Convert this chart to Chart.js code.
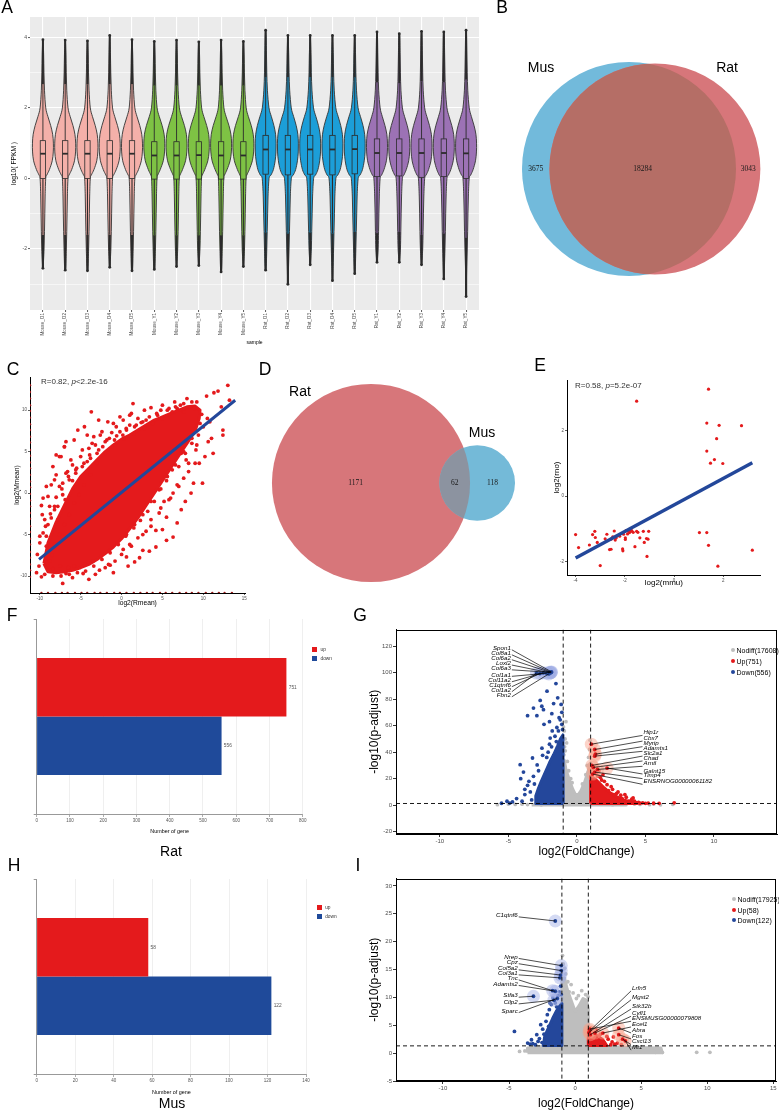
<!DOCTYPE html>
<html><head><meta charset="utf-8">
<title>Figure</title>
<script src="https://cdn.jsdelivr.net/npm/chart.js@4.4.1/dist/chart.umd.min.js"></script>
<style>
html,body{margin:0;padding:0;background:#fff}
body{width:779px;height:1110px;position:relative;overflow:hidden;font-family:"Liberation Sans",Arial,sans-serif;color:#000}
canvas{position:absolute;display:block}
.t{position:absolute;white-space:nowrap;line-height:1}
.c{transform:translate(-50%,-50%)}
.l{transform:translateY(-50%)}
.pl{font-size:17.5px}
.sq{position:absolute;width:5px;height:5px}
.dot{position:absolute;width:4px;height:4px;border-radius:50%}
</style></head><body>
<canvas id="cA" width="485" height="352" style="left:0;top:0"></canvas>
<canvas id="cB" width="289" height="320" style="left:490px;top:0"></canvas>
<canvas id="cC" width="265" height="250" style="left:0;top:362px"></canvas>
<canvas id="cD" width="268" height="248" style="left:262px;top:362px"></canvas>
<canvas id="cE" width="239" height="219" style="left:540px;top:372px"></canvas>
<canvas id="cF" width="330" height="228" style="left:0;top:610px"></canvas>
<canvas id="cG" width="419" height="236" style="left:360px;top:625px"></canvas>
<canvas id="cH" width="330" height="228" style="left:0;top:870px"></canvas>
<canvas id="cI" width="419" height="240" style="left:360px;top:874px"></canvas>

<div class="t c pl" style="left:7px;top:8px">A</div>
<div class="t c pl" style="left:502px;top:8px">B</div>
<div class="t c pl" style="left:13px;top:370px">C</div>
<div class="t c pl" style="left:265px;top:370px">D</div>
<div class="t c pl" style="left:540px;top:366px">E</div>
<div class="t c pl" style="left:12px;top:616px">F</div>
<div class="t c pl" style="left:360px;top:616px">G</div>
<div class="t c pl" style="left:14px;top:866px">H</div>
<div class="t c pl" style="left:358px;top:866px">I</div>

<div class="t l" style="left:41px;top:382px;font-size:8px;color:#333">R=0.82, <i>p</i>&lt;2.2e-16</div>
<div class="t l" style="left:575px;top:386px;font-size:8px;color:#333">R=0.58, <i>p</i>=5.2e-07</div>
<div class="t c" style="left:171px;top:851px;font-size:14px">Rat</div>
<div class="t c" style="left:172px;top:1103px;font-size:14px">Mus</div>
<div id="legends"></div>

<script>
// ===================== DATA =====================
// A: log10(FPKM) distributions per sample
const sampleNames = ['Mouse_O1','Mouse_O2','Mouse_O3','Mouse_O4','Mouse_O5','Mouse_Y1','Mouse_Y2','Mouse_Y3','Mouse_Y4','Mouse_Y5','Rat_O1','Rat_O2','Rat_O3','Rat_O4','Rat_O5','Rat_Y1','Rat_Y2','Rat_Y3','Rat_Y4','Rat_Y5'];
const sampleGroup = [0,0,0,0,0,1,1,1,1,1,2,2,2,2,2,3,3,3,3,3];
const fpkmMax = [3.93,3.92,3.90,4.05,3.93,3.88,3.92,3.87,3.92,3.88,4.20,4.05,4.05,4.05,4.05,4.15,4.10,4.17,4.15,4.20];
const fpkmMin = [-2.55,-2.60,-2.62,-2.52,-2.62,-2.58,-2.50,-2.47,-2.65,-2.50,-2.60,-3.00,-2.45,-2.90,-2.70,-2.38,-2.38,-2.45,-2.85,-3.35];
const fpkmQ1 = [0.00,0.00,0.00,0.00,0.00,-0.02,-0.02,-0.02,-0.02,-0.02,0.12,0.10,0.12,0.10,0.13,0.05,0.07,0.03,0.05,0.00];
const fpkmMedian = [0.70,0.70,0.70,0.70,0.70,0.65,0.65,0.66,0.65,0.65,0.82,0.82,0.82,0.82,0.83,0.72,0.72,0.72,0.72,0.71];
const fpkmQ3 = [1.07,1.07,1.07,1.07,1.07,1.04,1.04,1.04,1.04,1.04,1.22,1.22,1.22,1.22,1.22,1.12,1.12,1.12,1.12,1.12];
const fpkmWhiskerHi = [2.67,2.67,2.67,2.67,2.67,2.63,2.63,2.63,2.63,2.63,2.87,2.87,2.87,2.87,2.86,2.72,2.70,2.75,2.72,2.80];
const fpkmWhiskerLo = [-1.60,-1.60,-1.60,-1.60,-1.60,-1.61,-1.61,-1.61,-1.61,-1.61,-1.53,-1.56,-1.53,-1.56,-1.51,-1.55,-1.51,-1.60,-1.56,-1.68];
const densityLevels = [4.2,4.0,3.5,3.0,2.5,2.0,1.75,1.5,1.25,1.0,0.75,0.5,0.25,0.1,0.0,-0.5,-1.0,-1.5,-2.0,-2.5,-3.0,-3.4];
const densityMouseO = [0.03,0.04,0.07,0.10,0.15,0.27,0.48,0.74,0.93,1.00,0.99,0.89,0.62,0.38,0.27,0.21,0.18,0.15,0.11,0.06,0.03,0.02];
const densityMouseY = [0.03,0.04,0.07,0.10,0.15,0.27,0.48,0.75,0.94,1.00,0.98,0.86,0.57,0.34,0.26,0.21,0.18,0.15,0.11,0.06,0.03,0.02];
const densityRatO   = [0.03,0.05,0.08,0.11,0.17,0.32,0.55,0.79,0.95,1.00,0.99,0.91,0.74,0.52,0.33,0.23,0.19,0.15,0.11,0.06,0.03,0.02];
const densityRatY   = [0.03,0.05,0.08,0.11,0.16,0.30,0.51,0.76,0.94,1.00,0.99,0.90,0.67,0.45,0.30,0.22,0.18,0.15,0.11,0.06,0.03,0.02];
const fpkmTickLabels = [-2,0,2,4];
const fpkmGridBreaks = [-3,-2,-1,0,1,2,3,4];

// B / D: Venn counts
const vennAllNames = ['Mus','Rat'];
const vennAllOnly = [3675,3043];
const vennAllShared = 18284;
const vennDegNames = ['Rat','Mus'];
const vennDegOnly = [1171,118];
const vennDegShared = 62;

// C: log2 mean expression, Rat (x) vs Mouse (y)
const expressionCore = [[-9.5,-8.5],[-9.0,-6.0],[-8.0,-3.5],[-7.0,-1.5],[-6.0,0.5],[-5.0,2.0],[-4.0,3.0],[-3.0,4.0],[-2.0,5.0],[-1.0,5.8],[0.0,6.5],[1.0,7.0],[2.0,7.6],[3.0,8.2],[4.0,8.8],[5.0,9.2],[6.0,9.6],[7.0,10.0],[8.0,10.4],[9.0,10.5],[9.6,10.0],[9.5,9.0],[9.0,7.5],[8.0,6.0],[7.0,4.5],[6.0,3.0],[5.0,1.5],[4.0,0.0],[3.0,-1.5],[2.0,-3.0],[1.0,-4.3],[0.0,-5.5],[-1.0,-6.5],[-2.0,-7.3],[-3.0,-8.0],[-4.0,-8.6],[-5.0,-9.0],[-6.0,-9.3],[-7.0,-9.5],[-8.0,-9.6],[-9.0,-9.5]];
const expressionScatter = [
[-10.0,-6.0],[-9.6,-4.8],[-9.4,-3.2],[-9.8,-1.5],[-9.0,-0.4],[-8.6,1.0],[-8.4,3.2],[-8.0,2.2],[-7.6,4.4],[-7.0,5.6],[-6.2,4.0],[-6.6,2.6],[-7.3,0.5],[-8.2,-1.6],[-7.8,-3.2],[-6.9,-0.8],[-6.0,1.5],[-5.5,3.0],[-5.35,7.6],[-4.54,8.0],[-3.7,9.8],[-4.8,5.2],[-4.2,3.8],[-3.6,6.0],[-3.0,4.8],[-2.6,7.0],[-2.0,6.2],[-1.68,8.6],[-1.2,7.3],[-0.86,6.4],[-0.65,8.0],[0.16,7.0],[0.57,7.8],[1.2,9.6],[1.8,8.2],[2.4,8.5],[3.0,8.8],[3.6,10.3],[4.3,9.6],[5.0,10.6],[5.8,10.2],[6.5,11.0],[7.2,10.6],[8.0,11.4],[9.2,11.0],[10.4,11.7],[11.3,12.1],[11.8,12.3],[13.0,13.0],[12.4,7.6],[12.4,7.0],[10.6,6.2],[11.2,4.8],[9.9,1.2],[9.5,3.6],[9.1,5.2],[7.9,4.0],[7.3,4.8],[8.5,0.0],[6.3,0.0],[7.3,-2.0],[5.5,-2.9],[4.2,-4.5],[6.3,-5.3],[5.5,-5.7],[4.2,-6.5],[2.6,-6.9],[1.6,-8.3],[0.6,-7.7],[-1.4,-8.7],[-2.7,-9.3],[-4.7,-9.7],[-6.8,-9.7],[-8.4,-9.1],[-7.2,-10.9],[-9.8,-10.1],[-10.1,-8.8],[-9.2,-6.4],[-10.0,-5.2],[-8.8,-1.6],[-9.6,-0.6],[-8.2,1.6],[-7.4,4.4],[-6.98,5.58],
[-8.5,-7.5],[-8.8,-8.2],[-7.5,-8.8],[-6.5,-9.0],[-5.8,-8.8],[-4.5,-8.6],[-3.5,-8.2],[-2.5,-7.6],[-1.5,-7.0],[-0.5,-6.0],[0.5,-5.2],[1.5,-4.2],[2.3,-3.3],[3.2,-2.2],[4.0,-1.0],[4.8,0.5],[5.5,1.5],[6.2,2.8],[7.0,3.2],[7.8,4.8],[8.6,6.0],[9.4,7.0],[10.0,8.0],[10.5,9.0],[9.8,9.5],[8.9,10.2],[7.6,9.8],[6.2,9.8],[5.0,9.0],[3.8,8.4],[2.8,7.8],[1.5,7.2],[0.3,6.5],[-0.8,5.8],[-2.0,4.8],[-3.0,3.6],[-3.8,2.2],[-4.6,1.0],[-5.2,-0.2],[-5.8,-1.2],[-6.4,-2.6],[-7.0,-3.8],[-7.6,-5.0],[-8.2,-6.2],[-9.0,-7.0],
[-9.3,-4.0],[-8.7,-2.5],[-8.0,-0.5],[-7.2,1.2],[-6.5,2.0],[-5.6,2.4],[-4.8,3.2],[-3.9,4.6],[-3.2,5.8],[-2.3,5.6],[-1.5,6.6],[-0.2,7.4],[1.0,8.2],[2.0,9.0],[4.8,10.0],[6.8,10.2],[8.4,10.4],
[-2.0,-9.0],[-0.8,-8.2],[0.2,-6.8],[1.0,-6.2],[2.0,-5.4],[3.0,-4.6],[3.6,-3.2],[4.6,-2.4],[5.2,-1.0],[6.0,-0.6],[6.8,1.0],[7.6,1.8],[8.2,2.6],[9.0,3.6],[10.2,4.4],[11.0,6.6],[10.8,8.6],[12.2,10.4],[13.2,11.2],
[-6.0,-10.2],[-4.0,-10.4],[-3.2,-9.8],[-1.0,-9.6],[0.8,-8.8],[2.2,-7.8],[3.4,-7.0],[5.0,-4.4],[6.8,-3.6],[7.8,-1.0],[8.8,1.2],[-10.4,-9.6],[-10.3,-7.4],[-9.7,-2.6],[-9.2,0.8],[-8.0,4.6],[-6.8,6.2],[-5.8,6.4],[-4.2,7.0],[-2.8,8.8],[-0.2,9.2],[1.4,10.8],[2.8,10.0],
[-9.2,-5.2],[-8.6,-3.0],[-7.8,-1.6],[-7.2,-0.2],[-6.4,1.6],[-5.6,2.8],[-4.6,3.6],[-3.8,4.2],[-2.8,5.2],[-1.8,6.4],[-0.6,6.9],[0.6,7.6],[1.6,8.0],[2.6,8.6],[3.4,9.2],[4.4,9.4],[5.6,10.0],[6.6,10.4],[7.6,10.8],[8.6,11.0],
[9.6,8.4],[8.6,6.6],[7.6,5.0],[6.6,3.4],[5.6,2.0],[4.6,0.4],[3.6,-1.0],[2.6,-2.6],[1.6,-3.8],[0.6,-5.0],[-0.4,-6.2],[-1.4,-7.2],[-2.4,-8.0],[-3.4,-8.8],[-4.4,-9.4],[-5.4,-9.6],[-6.4,-9.8],[-7.4,-10.0],[-8.4,-10.0],[-9.4,-9.8],
[-9.0,-3.8],[-8.2,-2.0],[-7.6,0.8],[-6.8,2.4],[-6.0,3.4],[-5.0,4.4],[-4.0,5.4],[-3.4,6.8],[-2.4,7.4],[-1.0,8.4],[0.2,8.8],[1.0,9.4],[-1.6,-8.6],[0.0,-7.4],[1.2,-6.4],[2.6,-5.0],[3.6,-4.0],[4.8,-1.8],[5.8,-0.8],[7.0,0.8],[8.2,3.6],[9.2,5.8]];
const rmeanZeroY = [-10.1,-9.3,-8.6,-7.8,-7.1,-6.2,-5.5,-4.7,-4.0,-3.1,-2.4,-1.6,-0.9,-0.1,0.7,1.4,2.2,3.0,3.7,4.5,5.2,6.1,6.8,7.6,8.3,9.1,9.9,10.6,11.4,12.2,13.0];
const mmeanZeroX = [-9.8,-9.0,-8.1,-7.3,-6.6,-5.7,-4.9,-4.2,-3.3,-2.6,-1.8,-0.9,-0.2,0.6,1.5,2.3,3.1,3.8,4.7,5.4,6.2,7.1,7.9,8.6,9.4,10.3,11.1,11.9,12.6,13.5];
const fitRmean = [-10.1,13.9];
const fitMmean = [-8.0,11.2];

// E: log2 fold changes of shared DEGs, mouse (x) vs rat (y)
const sharedDegMmu = [1.40,-1.52,1.33,1.83,2.74,1.73,1.33,1.64,1.48,1.98,1.03,1.33,1.40,1.78,3.18,-4.00,-3.88,-3.44,-3.31,-3.22,-3.20,-3.12,-3.00,-2.80,-2.73,-2.62,-2.56,-2.56,-2.49,-2.43,-2.39,-2.35,-2.21,-2.09,-2.08,-2.05,-1.98,-1.98,-1.95,-1.89,-1.85,-1.81,-1.76,-1.72,-1.66,-1.59,-1.52,-1.47,-1.39,-1.25,-1.21,-1.12,-1.10,-1.03,-1.06];
const sharedDegRno = [3.28,2.91,2.24,2.17,2.16,1.76,1.38,1.12,1.01,1.00,-1.12,-1.12,-1.51,-2.15,-1.66,-1.18,-1.58,-1.50,-1.18,-1.08,-1.27,-1.42,-2.13,-1.31,-1.17,-1.64,-1.63,-1.32,-1.25,-1.07,-1.35,-1.28,-1.23,-1.62,-1.68,-1.17,-1.28,-1.33,-1.06,-1.16,-1.08,-1.12,-1.08,-1.06,-1.11,-1.55,-1.08,-1.11,-1.28,-1.08,-1.42,-1.30,-1.85,-1.08,-1.32];
const fitMmu = [-4.0,3.18];
const fitRno = [-1.90,1.02];

// F / H: DEG counts
const degClasses = ['up','down'];
const ratDegCounts = [751,556];
const musDegCounts = [58,122];

// G: Rat volcano
const ratVolcanoCounts = [17608,751,556];
const ratNodiffCore = [[-3.3,0.1],[-3.0,1.1],[-1.0,1.3],[-1.0,30],[-0.92,34],[-0.8,27],[-0.55,19],[-0.3,12],[-0.1,8],[0.1,8],[0.3,11],[0.55,17],[0.8,25],[0.93,31],[1.0,32],[1.0,1.3],[3.0,1.1],[3.6,0.1]];
const ratNodiffPts = [[-0.95,38],[-0.9,44],[-0.86,50],[-0.92,56],[-0.8,63],[-0.85,41],[-0.7,33],[-0.6,26],[-0.45,20],[-0.35,17],[0.4,16],[0.65,23],[0.85,36],[0.92,42],[0.96,49],[0.75,30],[-4.5,0.6],[-5.0,0.9],[-5.8,0.4],[-4.0,0.8],[-3.6,0.5],[4.2,0.9],[4.6,0.6],[5.3,0.4],[5.6,0.9],[6.1,0.3],[7.0,0.6],[-2.6,0.3],[2.6,0.4],[-0.98,59],[-0.75,47]];
const ratDownCore = [[-1.0,1.3],[-3.0,1.3],[-3.0,7],[-2.8,13],[-2.6,18],[-2.3,25],[-2.0,32],[-1.7,38],[-1.4,45],[-1.2,50],[-1.02,53]];
const ratDownPts = [[-3.17,21.8],[-4.14,30.6],[-3.24,35.6],[-2.55,43],[-1.95,50.6],[-1.46,58.6],[-1.22,64.4],[-2.68,79],[-2.56,74.6],[-2.44,72],[-1.7,76.6],[-3.17,73.2],[-3.6,67.5],[-2.92,67.5],[-1.83,69],[-1.53,91.7],[-2.18,86],[-5.1,3],[-4.7,2.5],[-4.0,3],[-3.8,8],[-3.6,15],[-4.1,20],[-3.9,25],[-2.9,30.4],[-2.5,37.6],[-2.1,40],[-1.85,44],[-1.5,48],[-1.6,52],[-1.35,56],[-1.1,61],[-4.4,5],[-3.4,10],[-3.3,4],[-3.5,18],[-2.8,26],[-2.2,36],[-1.3,66],[-1.1,70],[-1.05,57],[-4.9,1.6],[-5.5,1.5],[-3.8,12],[-3.1,16],[-2.0,46],[-1.8,56],[-1.15,76],[-1.4,81],[-2.4,61],[-2.0,63]];
const ratUpCore = [[1.0,1.3],[1.0,22],[1.3,20],[1.6,17],[2.0,13],[2.4,9.5],[2.9,6.5],[3.4,4],[4.0,2.2],[4.4,1.3]];
const ratUpPts = [[1.2,25],[1.5,22],[1.8,19],[2.2,15.5],[2.6,12],[2.9,9],[3.2,7.5],[3.6,6],[4.0,4.5],[4.2,3],[4.5,2.2],[3.8,3],[4.8,1.8],[5.2,1.6],[5.6,1.5],[6.0,1.4],[7.1,1.8],[4.6,1.5],[3.3,5],[2.7,8],[2.3,11],[1.1,27],[1.4,24],[1.7,21],[2.0,18],[5.0,1.4],[4.3,2.0],[2.5,14],[3.0,10],[1.9,23],[1.6,26],[3.5,8],[4.1,5.5]];
const ratDownGenes = ['Spon1','Col8a1','Col6a2','Loxl2','Col6a3','Col1a1','Col11a2','C1qtnf6','Col1a2','Fbn2'];
const ratDownGenePts = [[-1.85,100.5],[-1.88,100.2],[-1.9,100],[-1.95,99.8],[-2.0,100.2],[-2.2,99.5],[-2.45,99.8],[-2.7,99.3],[-2.95,99.6],[-2.05,99]];
const ratUpGenes = ['Hip1r','Cbx7','Myrip','Adamts1','Slc2a1','Chad','Arntl','Galnt15','Timp4','ENSRNOG00000061182'];
const ratUpGenePts = [[1.05,46],[1.3,42],[1.35,38.5],[1.3,37],[1.1,30],[1.2,28.5],[1.5,27],[2.2,28],[1.3,25],[1.15,23.5]];

// I: Mouse volcano
const musVolcanoCounts = [17925,58,122];
const musNodiffCore = [[-3.6,0.05],[-3.6,0.9],[-2.5,1.2],[-1.0,1.35],[-1.0,13],[-0.8,13.5],[-0.6,11.5],[-0.3,9.5],[0,7.5],[0.3,8.5],[0.6,9.8],[0.85,9.5],[1.0,8],[1.0,1.35],[2.5,1.2],[4.0,1.0],[6.5,0.9],[6.6,0.05]];
const musNodiffPts = [[-0.9,16],[-0.8,15.2],[-0.7,14.2],[-0.55,12.8],[-0.45,11],[-0.3,12.3],[0.25,10.3],[0.5,11.2],[0.8,10.5],[0.98,10.1],[-0.9,11],[6.07,0.15],[6.6,0.15],[9.2,0.15],[10.2,0.15],[5.3,0.4],[4.6,0.5],[-3.8,0.4],[-4.2,0.3],[-0.95,17.5],[0.1,9.8],[-0.15,10.8]];
const musDownCore = [[-1.0,1.35],[-2.4,1.35],[-2.3,3.0],[-2.0,4.6],[-1.7,6.2],[-1.4,7.6],[-1.1,8.7],[-1.0,8.9]];
const musDownPts = [[-4.59,3.9],[-3.59,1.8],[-3.4,1.6],[-3.2,1.7],[-3.0,1.5],[-2.9,3.3],[-2.7,2.6],[-2.6,5.1],[-2.35,3.4],[-2.2,5.7],[-2.1,6.9],[-1.95,7.8],[-1.8,8.7],[-1.68,9.9],[-2.5,1.9],[-2.8,2.1],[-1.9,9.0],[-1.3,10.3],[-1.2,11],[-1.1,12.0],[-2.45,4.3],[-3.3,2.4],[-2.0,4.8],[-1.4,8.3],[-1.05,10.5],[-1.5,9.0]];
const musUpCore = [[1.0,1.35],[1.0,4.0],[1.3,3.8],[1.7,3.1],[2.1,2.4],[2.4,1.35]];
const musUpPts = [[2.5,2.5],[2.8,2.0],[3.0,1.6],[2.4,3.0],[1.9,3.4],[2.9,2.9],[3.2,1.8],[2.2,1.9],[1.6,4.1],[2.7,1.5],[1.2,4.5],[3.5,1.5]];
const musDownGenes = ['C1qtnf6','Nrep','Cpz','Col5a2','Col3a1','Tnc','Adamts2','Stfa3','Cilp2','Sparc'];
const musDownGenePts = [[-1.5,23.7],[-1.05,15.7],[-1.05,14.8],[-1.1,14.0],[-1.15,13.5],[-1.7,11.2],[-1.5,11.1],[-3.15,10.2],[-1.6,9.5],[-1.35,9.8]];
const musUpGenes = ['Lrfn5','Mgst2','Stk32b','Cyfl1','ENSMUSG00000079808','Ecel1','Abra','Fos','Cxcl13','Mt1'];
const musUpGenePts = [[1.1,4.0],[1.05,3.7],[1.15,3.3],[1.5,3.6],[1.1,4.3],[2.1,3.6],[3.3,4.5],[3.3,3.3],[3.6,2.5],[3.8,2.2]];

// thresholds
const fcCut = 1;
const padjCut = 0.05;

// ===================== LAYOUT (label anchors, in data units) =====================
const ratLabelLayout = {downX:-4.82, downY:[118.3,114.5,110.8,106.8,103.2,98.3,94.2,90.5,86.7,82.9], upX:4.86, upY:[54.9,50.6,46.4,42.9,39.3,35.6,31.6,25.8,22.3,18.0]};
const musLabelLayout = {downX:-4.34, downY:[24.7,17.25,16.3,15.2,14.3,13.4,12.4,10.3,9.1,7.55], upX:4.31, upY:[11.7,10.1,8.45,7.14,6.25,5.23,4.16,3.09,2.07,1.07]};

// ===================== HELPERS =====================
Chart.defaults.font.family = "'Liberation Sans', Arial, sans-serif";
Chart.defaults.color = '#4D4D4D';
const FONT = "'Liberation Sans', Arial, sans-serif";
const pts = a => a.map(p => ({x:p[0], y:p[1]}));
const closed = a => pts(a.concat([a[0]]));
const zip = (a,b) => a.map((v,i)=>[v,b[i]]);

function baseOpts(pad){
  return {responsive:false, animation:false, events:[],
    layout:{padding:Object.assign({left:0,right:0,top:0,bottom:0},pad), autoPadding:false},
    plugins:{legend:{display:false}, tooltip:{enabled:false}}};
}
function axis(o){
  return {
    type:'linear', min:o.min, max:o.max, position:o.pos,
    afterBuildTicks: sc => { sc.ticks = o.ticks.map(v=>({value:v})); },
    afterFit: sc => { if (o.w!=null) sc.width=o.w; if (o.h!=null) sc.height=o.h; },
    ticks:{autoSkip:false, maxRotation:o.rot||0, minRotation:o.rot||0, font:{size:o.fs||5}, color:o.tc||'#4D4D4D', padding:o.pad==null?1:o.pad, callback:o.fmt||(v=>String(v))},
    grid:{display:true, drawOnChartArea:!!o.gridColor, color:o.gridColor||'rgba(0,0,0,0)', lineWidth:o.gridWidth||1, drawTicks:true, tickLength:o.tl==null?2:o.tl, tickColor:o.tickColor||'#333', tickWidth:o.tickWidth||0.8},
    border:{display:!!o.border, color:o.border||'#000', width:o.borderWidth||1},
    title:{display:!!o.title, text:o.title||'', font:{size:o.tfs||8}, color:'#000', padding:o.tpad||0}
  };
}
function polyDS(arr, color, order){
  return {data:closed(arr), showLine:true, fill:'shape', backgroundColor:color, borderColor:color, borderWidth:3, borderJoinStyle:'round', pointRadius:0, tension:0, order};
}
function ptDS(arr, color, r, order){
  return {data:pts(arr), backgroundColor:color, pointRadius:r, pointBorderWidth:0, borderWidth:0, order};
}
function smoothPath(ctx, p, move){
  if (move) ctx.moveTo(p[0][0], p[0][1]); else ctx.lineTo(p[0][0], p[0][1]);
  for (let i=0;i<p.length-1;i++){
    const p0=p[Math.max(i-1,0)], p1=p[i], p2=p[i+1], p3=p[Math.min(i+2,p.length-1)];
    ctx.bezierCurveTo(p1[0]+(p2[0]-p0[0])/6, p1[1]+(p2[1]-p0[1])/6, p2[0]-(p3[0]-p1[0])/6, p2[1]-(p3[1]-p1[1])/6, p2[0], p2[1]);
  }
}

// ===================== A: violins =====================
const groupColors = ['#F4B0A9','#7EC244','#1C9ED8','#9C72B5'];
const groupDensity = [densityMouseO, densityMouseY, densityRatO, densityRatY];
const VIOLIN_HALF = 0.47, BOX_HALF = 0.12;
const violinPlugin = {
  id:'violins',
  beforeDatasetsDraw(chart){
    const {ctx, chartArea:a, scales:{x, y}} = chart;
    const Y = v => y.getPixelForValue(v);
    ctx.save(); ctx.beginPath(); ctx.rect(a.left,a.top,a.width,a.height); ctx.clip();
    sampleNames.forEach((nm,i)=>{
      const dens = groupDensity[sampleGroup[i]];
      const prof = [[fpkmMax[i],0.02]];
      densityLevels.forEach((lv,k)=>{ if (lv < fpkmMax[i]-0.05 && lv > fpkmMin[i]+0.05) prof.push([lv,dens[k]]); });
      prof.push([fpkmMin[i],0.02]);
      const right = prof.map(([v,w])=>[x.getPixelForValue(i+w*VIOLIN_HALF), Y(v)]);
      const left = prof.slice().reverse().map(([v,w])=>[x.getPixelForValue(i-w*VIOLIN_HALF), Y(v)]);
      ctx.beginPath(); smoothPath(ctx,right,true); smoothPath(ctx,left,false); ctx.closePath();
      ctx.fillStyle = groupColors[sampleGroup[i]]; ctx.fill();
      ctx.strokeStyle = '#333'; ctx.lineWidth = 0.9; ctx.stroke();
      const cx = x.getPixelForValue(i);
      const seg = (y1,y2,w)=>{ ctx.lineWidth=w; ctx.beginPath(); ctx.moveTo(cx,Y(y1)); ctx.lineTo(cx,Y(y2)); ctx.stroke(); };
      ctx.strokeStyle = '#2b2b2b';
      seg(fpkmQ3[i], fpkmWhiskerHi[i], 0.9); seg(fpkmQ1[i], fpkmWhiskerLo[i], 1.1);
      seg(fpkmWhiskerHi[i], fpkmMax[i], 2.0); seg(fpkmWhiskerLo[i], fpkmMin[i], 2.2);
      ctx.fillStyle = '#2b2b2b';
      [fpkmMax[i], fpkmMin[i]].forEach(v=>{ ctx.beginPath(); ctx.arc(cx, Y(v), 1.4, 0, Math.PI*2); ctx.fill(); });
      const bl = x.getPixelForValue(i-BOX_HALF), br = x.getPixelForValue(i+BOX_HALF);
      ctx.fillStyle = groupColors[sampleGroup[i]];
      ctx.fillRect(bl, Y(fpkmQ3[i]), br-bl, Y(fpkmQ1[i])-Y(fpkmQ3[i]));
      ctx.lineWidth = 0.8; ctx.strokeRect(bl, Y(fpkmQ3[i]), br-bl, Y(fpkmQ1[i])-Y(fpkmQ3[i]));
      ctx.lineWidth = 1.8; ctx.beginPath(); ctx.moveTo(bl, Y(fpkmMedian[i])); ctx.lineTo(br, Y(fpkmMedian[i])); ctx.stroke();
    });
    ctx.restore();
  }
};
const panelBg = {id:'panelBg', beforeDraw(c){ const a=c.chartArea; c.ctx.save(); c.ctx.fillStyle='#EBEBEB'; c.ctx.fillRect(a.left,a.top,a.width,a.height); c.ctx.restore(); }};
(function(){
  const xA = axis({min:-0.58, max:19.58, ticks:sampleNames.map((_,i)=>i), fmt:v=>sampleNames[v], rot:90, fs:4.6, h:42, tl:2, gridColor:'#FFFFFF', gridWidth:1.1, title:'sample', tfs:5, tpad:{top:0,bottom:6}});
  const yA = axis({min:-3.73, max:4.575, ticks:fpkmGridBreaks, fmt:v=>fpkmTickLabels.includes(v)?String(v):'', fs:5, w:30, tl:2, gridColor:'#FFFFFF', title:'log10( FPKM )', tfs:6.7, tpad:{top:10,bottom:0}});
  yA.grid.lineWidth = c => fpkmTickLabels.includes(c.tick && c.tick.value) ? 1.1 : 0.55;
  yA.grid.tickColor = c => fpkmTickLabels.includes(c.tick && c.tick.value) ? '#333' : 'rgba(0,0,0,0)';
  new Chart(document.getElementById('cA'), {
    type:'scatter', data:{datasets:[]},
    options:Object.assign(baseOpts({top:17,right:6}), {scales:{x:xA, y:yA}}),
    plugins:[panelBg, violinPlugin]
  });
})();

// ===================== B / D: Venn =====================
function lensArea(r1,r2,d){
  if (d >= r1+r2) return 0;
  if (d <= Math.abs(r1-r2)) return Math.PI*Math.min(r1,r2)**2;
  const a1 = Math.acos((d*d+r1*r1-r2*r2)/(2*d*r1)), a2 = Math.acos((d*d+r2*r2-r1*r1)/(2*d*r2));
  return r1*r1*(a1-Math.sin(2*a1)/2) + r2*r2*(a2-Math.sin(2*a2)/2);
}
function vennGeometry(onlyA, onlyB, shared){
  const rA = Math.sqrt((onlyA+shared)/Math.PI), rB = Math.sqrt((onlyB+shared)/Math.PI);
  let lo = Math.abs(rA-rB)+1e-9, hi = rA+rB;
  for (let k=0;k<80;k++){ const m=(lo+hi)/2; if (lensArea(rA,rB,m) > shared) lo=m; else hi=m; }
  return {rA, rB, d:(lo+hi)/2};
}
function vennChart(id, c){
  const g = vennGeometry(c.only[0], c.only[1], c.shared);
  new Chart(document.getElementById(id), {
    type:'scatter',
    data:{datasets:[]},
    options:Object.assign(baseOpts({}), {scales:{x:{type:'linear',display:false,min:c.view[0],max:c.view[1]}, y:{type:'linear',display:false,min:c.view[2],max:c.view[3]}}}),
    plugins:[{id:'vennDraw', afterDraw(ch){
      const ctx = ch.ctx, X = v=>ch.scales.x.getPixelForValue(v), Y = v=>ch.scales.y.getPixelForValue(v);
      const pr = r => X(r) - X(0);
      const circ = (cx, r) => { ctx.beginPath(); ctx.arc(X(cx), Y(0), pr(r), 0, Math.PI*2); };
      ctx.save();
      circ(0, g.rA); ctx.fillStyle = c.colors[0]; ctx.fill();
      circ(g.d, g.rB); ctx.fillStyle = c.colors[1]; ctx.fill();
      circ(0, g.rA); ctx.clip();
      circ(g.d, g.rB); ctx.fillStyle = c.lens; ctx.fill();
      ctx.restore();
      ctx.save();
      ctx.textAlign='center'; ctx.textBaseline='middle'; ctx.fillStyle='#1a1a1a'; ctx.font="7.5px 'Liberation Serif', serif";
      const xs = [(-g.rA + g.d - g.rB)/2, (g.d - g.rB + g.rA)/2, (g.rA + g.d + g.rB)/2];
      const vals = [c.only[0], c.shared, c.only[1]];
      xs.forEach((xv,i)=>ctx.fillText(String(vals[i]), X(xv), Y(0)));
      ctx.font = "14px " + FONT; ctx.fillStyle = '#000';
      c.names.forEach((n,i)=>ctx.fillText(n, X(c.labelAt[i][0]), Y(c.labelAt[i][1])));
      ctx.restore();
    }}]
  });
}
vennChart('cB', {names:vennAllNames, only:vennAllOnly, shared:vennAllShared, colors:['#72BADB','#D7767A'], lens:'#B56E66', view:[-108.6,117.2,-118.0,132.0], labelAt:[[-68.75,78.9],[76.6,78.9]]});
vennChart('cD', {names:vennDegNames, only:vennDegOnly, shared:vennDegShared, colors:['#D7767A','#74BAD8'], lens:'#8C93A0', view:[-21.8,31.8,-25.4,24.2], labelAt:[[-14.2,18.2],[22.2,10.0]]});

// ===================== C: expression scatter =====================
(function(){
  const XMIN=-11.2, XMAX=15.1, YMIN=-12.05, YMAX=14.0;
  new Chart(document.getElementById('cC'), {
    type:'scatter',
    data:{datasets:[
      {data:pts(zip(fitRmean,fitMmean)), showLine:true, borderColor:'#23479A', borderWidth:3, pointRadius:0, order:0},
      ptDS(expressionScatter, '#E41A1C', 1.9, 2),
      polyDS(expressionCore, '#E41A1C', 3),
      {data:rmeanZeroY.map(v=>({x:XMIN,y:v})), backgroundColor:'#9A1A1A', pointRadius:1.2, pointBorderWidth:0, order:1},
      {data:mmeanZeroX.map(v=>({x:v,y:YMIN})), backgroundColor:'#9A1A1A', pointRadius:1.2, pointBorderWidth:0, order:1}
    ]},
    options:Object.assign(baseOpts({top:15,right:20}), {scales:{
      x:axis({min:XMIN,max:XMAX,ticks:[-10,-5,0,5,10,15], h:19, fs:4.5, border:'#000', title:'log2(Rmean)', tfs:6.7, tpad:{top:0,bottom:5}, tl:2}),
      y:axis({min:YMIN,max:YMAX,ticks:[-10,-5,0,5,10], w:30, fs:4.5, border:'#000', title:'log2(Mmean)', tfs:6.7, tpad:{top:13,bottom:0}, tl:2})
    }})
  });
})();

// ===================== E: shared DEG scatter =====================
new Chart(document.getElementById('cE'), {
  type:'scatter',
  data:{datasets:[
    {data:pts(zip(fitMmu,fitRno)), showLine:true, borderColor:'#23479A', borderWidth:3.5, pointRadius:0, order:0},
    ptDS(zip(sharedDegMmu, sharedDegRno), '#E41A1C', 1.6, 1)
  ]},
  options:Object.assign(baseOpts({top:8,right:18.3}), {scales:{
    x:axis({min:-4.35,max:3.52,ticks:[-4,-2,0,2], h:16, fs:4.5, border:'#000', title:'log2(mmu)', tfs:8, tpad:{top:0,bottom:3.2}, tl:2}),
    y:axis({min:-2.42,max:3.56,ticks:[-2,0,2], w:27, fs:4.5, border:'#000', title:'log2(rno)', tfs:8, tpad:{top:12.2,bottom:0}, tl:2})
  }})
});

// ===================== F / H: DEG bars =====================
const barValuePlugin = {id:'barVal', afterDatasetsDraw(c){
  const ctx=c.ctx; ctx.save(); ctx.font = "4.8px " + FONT; ctx.fillStyle='#555'; ctx.textBaseline='middle'; ctx.textAlign='left';
  c.data.datasets.forEach((ds,i)=>{ c.getDatasetMeta(i).data.forEach((bar,j)=>{ ctx.fillText(String(ds.data[j]), bar.x+2.3, bar.y); }); });
  ctx.restore();
}};
function barChart(id, counts, xmax, step, padRight, titlePadB){
  const ticks=[]; for (let v=0; v<=xmax; v+=step) ticks.push(v);
  new Chart(document.getElementById(id), {
    type:'bar',
    data:{labels:[''], datasets:[
      {label:degClasses[0], data:[counts[0]], backgroundColor:'#E41A1C', categoryPercentage:0.6, barPercentage:1.0},
      {label:degClasses[1], data:[counts[1]], backgroundColor:'#1F4A9A', categoryPercentage:0.6, barPercentage:1.0}
    ]},
    options:Object.assign(baseOpts({top:9,right:padRight}), {indexAxis:'y', scales:{
      x:axis({min:0,max:xmax,ticks:ticks, h:24, fs:4.5, tc:'#555', gridColor:'#EBEBEB', gridWidth:0.8, border:'#999', tickColor:'#999', tl:3, title:'Number of gene', tfs:5.4, tpad:{top:0,bottom:titlePadB}}),
      y:{type:'category', afterFit:s=>{s.width=36.7;}, ticks:{font:{size:4.5}, color:'#777', padding:1}, grid:{drawOnChartArea:false, tickLength:3, tickColor:'#999'}, border:{display:true,color:'#999'}}
    }}),
    plugins:[barValuePlugin]
  });
}
barChart('cF', ratDegCounts, 800, 100, 27.3, 2.8);
barChart('cH', musDegCounts, 140, 20, 24, 1.8);

// ===================== G / I: volcanoes =====================
function volcanoDeco(layout, downGenes, downPts, upGenes, upPts){
  return {id:'volcanoDeco', afterDatasetsDraw(chart){
    const {ctx, chartArea:a, scales:{x,y}} = chart;
    ctx.save();
    ctx.beginPath(); ctx.rect(a.left,a.top,a.width,a.height); ctx.clip();
    ctx.setLineDash([4,3]); ctx.strokeStyle='#000'; ctx.lineWidth=0.9;
    [-fcCut, fcCut].forEach(v=>{ const px=x.getPixelForValue(v); ctx.beginPath(); ctx.moveTo(px,a.top); ctx.lineTo(px,a.bottom); ctx.stroke(); });
    const py = y.getPixelForValue(-Math.log10(padjCut));
    ctx.beginPath(); ctx.moveTo(a.left,py); ctx.lineTo(a.right,py); ctx.stroke();
    ctx.setLineDash([]);
    ctx.font = "italic 6.2px " + FONT; ctx.fillStyle='#000'; ctx.textBaseline='middle'; ctx.lineWidth=0.7;
    downGenes.forEach((g,i)=>{
      const X=x.getPixelForValue(layout.downX), Y=y.getPixelForValue(layout.downY[i]);
      ctx.textAlign='right'; ctx.fillText(g, X, Y);
      ctx.beginPath(); ctx.moveTo(X+1, Y+1.5); ctx.lineTo(x.getPixelForValue(downPts[i][0]), y.getPixelForValue(downPts[i][1])); ctx.stroke();
    });
    upGenes.forEach((g,i)=>{
      const X=x.getPixelForValue(layout.upX), Y=y.getPixelForValue(layout.upY[i]);
      ctx.textAlign='left'; ctx.fillText(g, X, Y);
      ctx.beginPath(); ctx.moveTo(X-1, Y+3); ctx.lineTo(x.getPixelForValue(upPts[i][0]), y.getPixelForValue(upPts[i][1])); ctx.stroke();
    });
    ctx.restore();
    ctx.save(); ctx.strokeStyle='#000'; ctx.lineWidth=1;
    ctx.strokeRect(Math.round(a.left)+0.5, Math.round(a.top)+0.5, Math.round(a.width)-1, Math.round(a.height)-1);
    ctx.restore();
  }};
}
function volcano(id, d){
  new Chart(document.getElementById(id), {
    type:'scatter',
    data:{datasets:[
      polyDS(d.nodiffCore, '#BEBEBE', 20),
      ptDS(d.nodiffPts, '#BEBEBE', 1.9, 19),
      polyDS(d.downCore, '#24479B', 18),
      ptDS(d.downPts, '#24479B', 1.9, 17),
      polyDS(d.upCore, '#E31A1C', 18),
      ptDS(d.upPts, '#E31A1C', 1.9, 17),
      ptDS(d.downGenePts, 'rgba(160,172,228,0.45)', 6.5, 10),
      ptDS(d.upGenePts, 'rgba(248,160,135,0.45)', 6.5, 10),
      ptDS(d.downGenePts, '#24479B', 1.9, 5),
      ptDS(d.upGenePts, '#E31A1C', 1.9, 5)
    ]},
    options:Object.assign(baseOpts({top:4,right:d.padR}), {scales:{
      x:axis({min:d.x[0],max:d.x[1],ticks:d.xt, h:d.h, fs:6, border:'#000', tickColor:'#000', tl:3, title:'log2(FoldChange)', tfs:12, tpad:{top:0,bottom:d.tpb}}),
      y:axis({min:d.y[0],max:d.y[1],ticks:d.yt, w:36, fs:6, border:'#000', tickColor:'#000', tl:3, title:'-log10(p-adjust)', tfs:12, tpad:{top:7.8,bottom:0}})
    }}),
    plugins:[volcanoDeco(d.layout, d.downGenes, d.downGenePts, d.upGenes, d.upGenePts)]
  });
}
volcano('cG', {nodiffCore:ratNodiffCore, nodiffPts:ratNodiffPts, downCore:ratDownCore, downPts:ratDownPts, upCore:ratUpCore, upPts:ratUpPts,
  downGenes:ratDownGenes, downGenePts:ratDownGenePts, upGenes:ratUpGenes, upGenePts:ratUpGenePts, layout:ratLabelLayout,
  x:[-13.2,14.6], y:[-21.7,132.4], xt:[-10,-5,0,5,10], yt:[-20,0,20,40,60,80,100,120], h:27, padR:2, tpb:1.8});
volcano('cI', {nodiffCore:musNodiffCore, nodiffPts:musNodiffPts, downCore:musDownCore, downPts:musDownPts, upCore:musUpCore, upPts:musUpPts,
  downGenes:musDownGenes, downGenePts:musDownGenePts, upGenes:musUpGenes, upGenePts:musUpGenePts, layout:musLabelLayout,
  x:[-13.55,15.2], y:[-5.0,31.3], xt:[-10,-5,0,5,10,15], yt:[-5,0,5,10,15,20,25,30], h:33, padR:3, tpb:2.8});

// ===================== HTML legends =====================
(function(){
  const box = document.getElementById('legends');
  const add = html => box.insertAdjacentHTML('beforeend', html);
  function barLegend(x, y){
    add(`<div class="sq" style="left:${x}px;top:${y}px;background:#E41A1C"></div><div class="t l" style="left:${x+8.5}px;top:${y+2.5}px;font-size:4.8px;color:#333">${degClasses[0]}</div>`);
    add(`<div class="sq" style="left:${x}px;top:${y+9}px;background:#1F4A9A"></div><div class="t l" style="left:${x+8.5}px;top:${y+11.5}px;font-size:4.8px;color:#333">${degClasses[1]}</div>`);
  }
  barLegend(312, 647);
  barLegend(316.7, 905);
  function volLegend(x, y, counts){
    const names=['Nodiff','Up','Down'], cols=['#BEBEBE','#E31A1C','#24479B'];
    names.forEach((n,i)=>{
      const yy = y + i*10.8;
      add(`<div class="dot" style="left:${x-2}px;top:${yy-2}px;background:${cols[i]}"></div><div class="t l" style="left:${x+3.5}px;top:${yy}px;font-size:7px;color:#000">${n}(${counts[i]})</div>`);
    });
  }
  volLegend(733, 650, ratVolcanoCounts);
  volLegend(734, 898.7, musVolcanoCounts);
})();
</script>
</body></html>
